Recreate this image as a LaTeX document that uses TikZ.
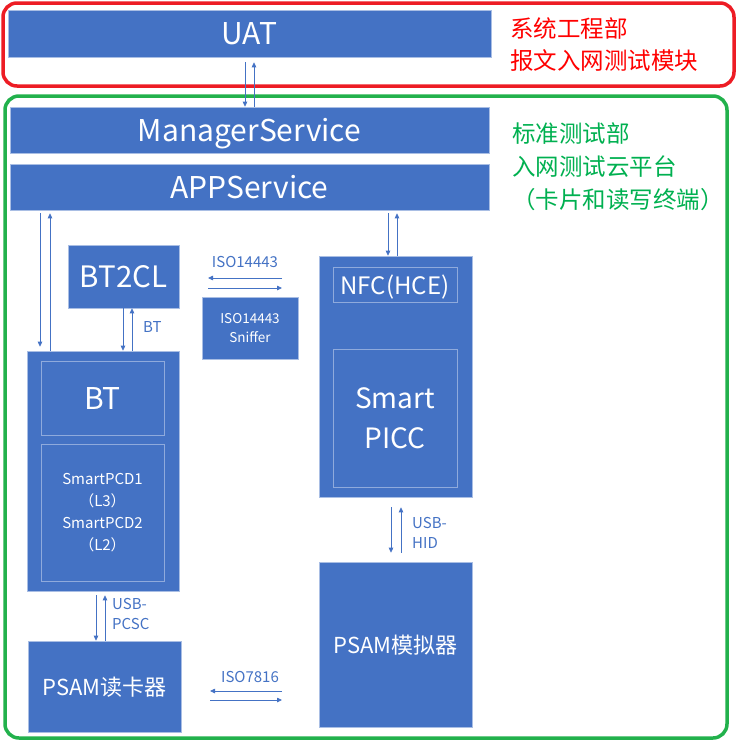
\documentclass[tikz,border=0pt]{standalone}
\usepackage{fontspec}
\setmainfont{Noto Sans CJK SC}
\usetikzlibrary{arrows.meta}
\definecolor{boxblue}{HTML}{4472C4}
\definecolor{boxedge}{HTML}{A9BEE4}
\definecolor{inedge}{HTML}{8FAADC}
\definecolor{frred}{HTML}{ED1C24}
\definecolor{frgreen}{HTML}{22B14C}
\definecolor{txred}{HTML}{FF0000}
\definecolor{txgreen}{HTML}{00B050}
\tikzset{
  box/.style={fill=boxblue,draw=boxedge,line width=0.6pt,text=white,inner sep=0pt,align=center},
  inbox/.style={draw=inedge,line width=0.6pt,text=white,inner sep=0pt,align=center},
  oneline/.style={text depth=0pt},
  arr/.style={draw=boxblue,line width=0.8pt,-{Triangle[length=5pt,width=4.5pt]}},
  lbl/.style={text=boxblue,inner sep=0pt,align=left},
  frame/.style={line width=3.5pt,rounded corners=14pt}
}
\begin{document}
\begin{tikzpicture}[x=1pt,y=-1pt]
                \useasboundingbox (0,0) rectangle (738,742);
                % frames
                \draw[frame,frred] (3,3) rectangle (734,86);
                \draw[frame,frgreen] (5,96) rectangle (727,738);
                \node[anchor=west,text=txred,font=\fontsize{23.5}{32}\selectfont,align=left,inner sep=0pt] (sysdept) at (510,44.5) {系统工程部\\报文入网测试模块};
                \node[anchor=west,text=txgreen,font=\fontsize{23.5}{33}\selectfont,align=left,inner sep=0pt] (stddept) at (512,166.5) {标准测试部\\入网测试云平台\\\makebox[1em][r]{（}卡片和读写终端\makebox[1em][l]{）}};
                % service layers
                \node[box,oneline,minimum width=483pt,minimum height=47pt,font=\fontsize{30}{30}\selectfont] (uat) at (249.5,33.5) {UAT};
                \node[box,oneline,minimum width=479pt,minimum height=46pt,font=\fontsize{30}{30}\selectfont] (ms) at (249.5,130) {ManagerService};
                \node[box,oneline,minimum width=479pt,minimum height=46pt,font=\fontsize{30}{30}\selectfont] (app) at (249.5,187) {APPService};
                % devices
                \node[box,oneline,minimum width=111pt,minimum height=63pt,font=\fontsize{29.5}{29.5}\selectfont] (bt2cl) at (123.5,276.5) {BT2CL};
                \node[box,minimum width=96pt,minimum height=62pt,font=\fontsize{13.5}{19}\selectfont] (sniffer) at (250,328.5) {ISO14443\\Sniffer};
                \node[box,minimum width=153pt,minimum height=241pt] (nfc) at (395.5,376.5) {};
                \node[inbox,oneline,minimum width=124pt,minimum height=35pt,font=\fontsize{24}{24}\selectfont] (hce) at (395,284.5) {NFC(HCE)};
                \node[inbox,minimum width=124pt,minimum height=138pt,font=\fontsize{28}{40}\selectfont] (picc) at (395,418) {Smart\\PICC};
                \node[box,minimum width=152pt,minimum height=240pt] (bt) at (103,471) {};
                \node[inbox,oneline,minimum width=123pt,minimum height=74pt,font=\fontsize{30}{30}\selectfont] (btin) at (102.5,398) {BT};
                \node[inbox,minimum width=123pt,minimum height=137pt,font=\fontsize{15}{22}\selectfont] (pcd) at (102.5,512.5) {SmartPCD1\\\makebox[0.8em][r]{（}L3\makebox[0.8em][l]{）}\\SmartPCD2\\\makebox[0.8em][r]{（}L2\makebox[0.8em][l]{）}};
                \node[box,oneline,minimum width=153pt,minimum height=91pt,font=\fontsize{22}{22}\selectfont] (reader) at (104.5,686.5) {PSAM读卡器};
                \node[box,oneline,minimum width=153pt,minimum height=165pt,font=\fontsize{22}{22}\selectfont] (sim) at (395.5,644.5) {PSAM模拟器};
                % links
                \draw[arr,shorten <=5pt] ([xshift=-4.5pt]uat.south) -- ([xshift=-4.5pt]ms.north);
                \draw[arr,shorten >=5pt] ([xshift=4.5pt]ms.north) -- ([xshift=4.5pt]uat.south);
                \draw[arr,shorten <=3pt,shorten >=4pt] ([xshift=-209.5pt]app.south) -- ([xshift=-63pt]bt.north);
                \draw[arr,shorten >=3pt] ([xshift=-53pt]bt.north) -- ([xshift=-199.5pt]app.south);
                \draw[arr] ([xshift=-0.5pt]bt2cl.south) -- ([xshift=20pt]bt.north);
                \draw[arr] ([xshift=29pt]bt.north) -- ([xshift=8.5pt]bt2cl.south);
                \draw[arr,shorten <=3pt] ([xshift=138.5pt]app.south) -- ([xshift=-7.5pt]nfc.north);
                \draw[arr,shorten >=3pt] ([xshift=1.5pt]nfc.north) -- ([xshift=147.5pt]app.south);
                \draw[arr,shorten <=10pt,shorten >=9pt] ([xshift=-4.5pt]nfc.south) -- ([xshift=-4.5pt]sim.north);
                \draw[arr,shorten <=9pt,shorten >=10pt] ([xshift=5.5pt]sim.north) -- ([xshift=5.5pt]nfc.south);
                \draw[arr,shorten <=4pt] ([xshift=-7pt]bt.south) -- ([xshift=-8.5pt]reader.north);
                \draw[arr,shorten >=4pt] ([xshift=0.5pt]reader.north) -- ([xshift=2pt]bt.south);
                % air interfaces
                \coordinate (isoa) at (208,283);
                \coordinate (isob) at (282,283);
                \draw[arr] ([yshift=5pt]isob) -- ([yshift=5pt]isoa);
                \draw[arr] ([yshift=-5pt]isoa) -- ([yshift=-5pt]isob);
                \coordinate (cta) at (210,695.5);
                \coordinate (ctb) at (282,695.5);
                \draw[arr] ([yshift=4.5pt]ctb) -- ([yshift=4.5pt]cta);
                \draw[arr] ([yshift=-4.5pt]cta) -- ([yshift=-4.5pt]ctb);
                % labels
                \node[lbl,font=\fontsize{15}{15}\selectfont] (isolbl) at (245,262) {ISO14443};
                \node[lbl,font=\fontsize{15}{15}\selectfont] (ctlbl) at (250,677) {ISO7816};
                \node[lbl,anchor=west,font=\fontsize{15}{15}\selectfont] (btlbl) at (143,327) {BT};
                \node[lbl,anchor=west,font=\fontsize{15}{20}\selectfont] (pcsclbl) at (112,614) {USB-\\PCSC};
                \node[lbl,anchor=west,font=\fontsize{15}{20}\selectfont] (hidlbl) at (412,533) {USB-\\HID};
            \end{tikzpicture}
\end{document}
